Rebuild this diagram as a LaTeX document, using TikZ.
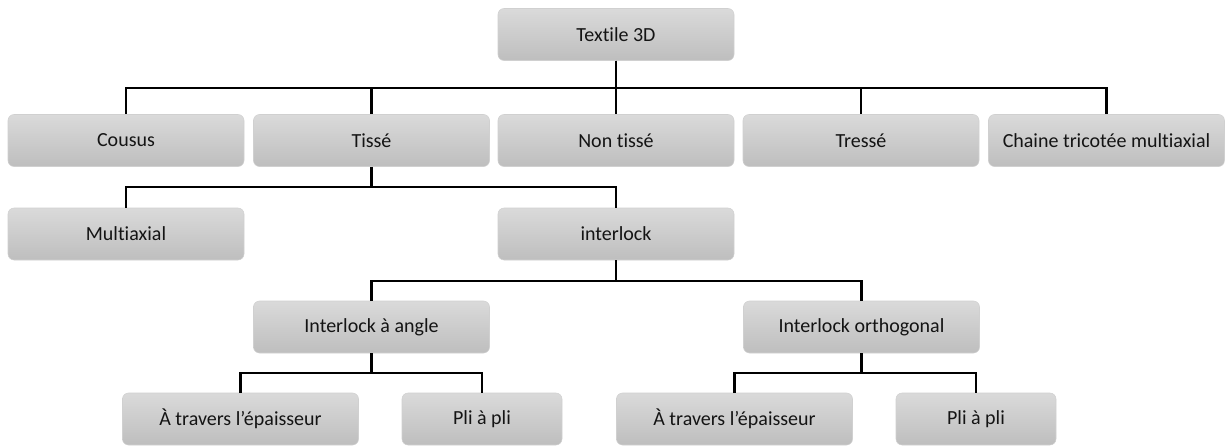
\documentclass[tikz,border=0pt]{standalone}
\usepackage{fontspec}
\setmainfont{Carlito}[Ligatures=NoCommon]
\usepackage{xcolor}
\usepackage{tikz}
\usetikzlibrary{positioning}
\definecolor{boxtop}{HTML}{DADADA}
\definecolor{boxbot}{HTML}{BEBEBE}
\definecolor{boxline}{HTML}{D0D0D0}
\definecolor{inktext}{HTML}{141414}

\begin{document}
\begin{tikzpicture}[
  x=0.75pt,y=-0.75pt,
  every node/.style={font=\fontsize{15}{18}\selectfont,align=center,text=inktext},
  cat/.style={draw=boxline,top color=boxtop,bottom color=boxbot,rounded corners=4.5pt,inner sep=0pt,minimum width=177pt,minimum height=39pt},
  small/.style={cat,minimum width=120pt},
  link/.style={line width=1.6pt,color=black}
]
\useasboundingbox (0,0) rectangle (1225,446);
\node[cat] (textile) at (616,34.5) {Textile 3D};
\node[cat] (cousus) at (126,140.5) {Cousus};
\node[cat] (tisse) at (371.5,140.5) {Tissé};
\node[cat] (nontisse) at (616,140.5) {Non tissé};
\node[cat] (tresse) at (861,140.5) {Tressé};
\node[cat] (chaine) at (1106.5,140.5) {Chaine tricotée multiaxial};
\node[cat] (multi) at (126,234) {Multiaxial};
\node[cat] (interlock) at (616,234) {interlock};
\node[cat] (angle) at (371.5,327) {Interlock à angle};
\node[cat] (ortho) at (861.5,327) {Interlock orthogonal};
\node[cat] (traversA) at (240.5,419) {À travers l’épaisseur};
\node[small] (pliA) at (482,419) {Pli à pli};
\node[cat] (traversB) at (734.5,419) {À travers l’épaisseur};
\node[small] (pliB) at (976,419) {Pli à pli};
\draw[link] (textile.south) -- ++(0,27) -| (cousus.north);
\draw[link] (textile.south) -- ++(0,27) -| (tisse.north);
\draw[link] (textile.south) -- ++(0,27) -| (nontisse.north);
\draw[link] (textile.south) -- ++(0,27) -| (tresse.north);
\draw[link] (textile.south) -- ++(0,27) -| (chaine.north);
\draw[link] (tisse.south) -- ++(0,20.5) -| (multi.north);
\draw[link] (tisse.south) -- ++(0,20.5) -| (interlock.north);
\draw[link] (interlock.south) -- ++(0,20.5) -| (angle.north);
\draw[link] (interlock.south) -- ++(0,20.5) -| (ortho.north);
\draw[link] (angle.south) -- ++(0,20) -| (traversA.north);
\draw[link] (angle.south) -- ++(0,20) -| (pliA.north);
\draw[link] (ortho.south) -- ++(0,20) -| (traversB.north);
\draw[link] (ortho.south) -- ++(0,20) -| (pliB.north);
\end{tikzpicture}
\end{document}
